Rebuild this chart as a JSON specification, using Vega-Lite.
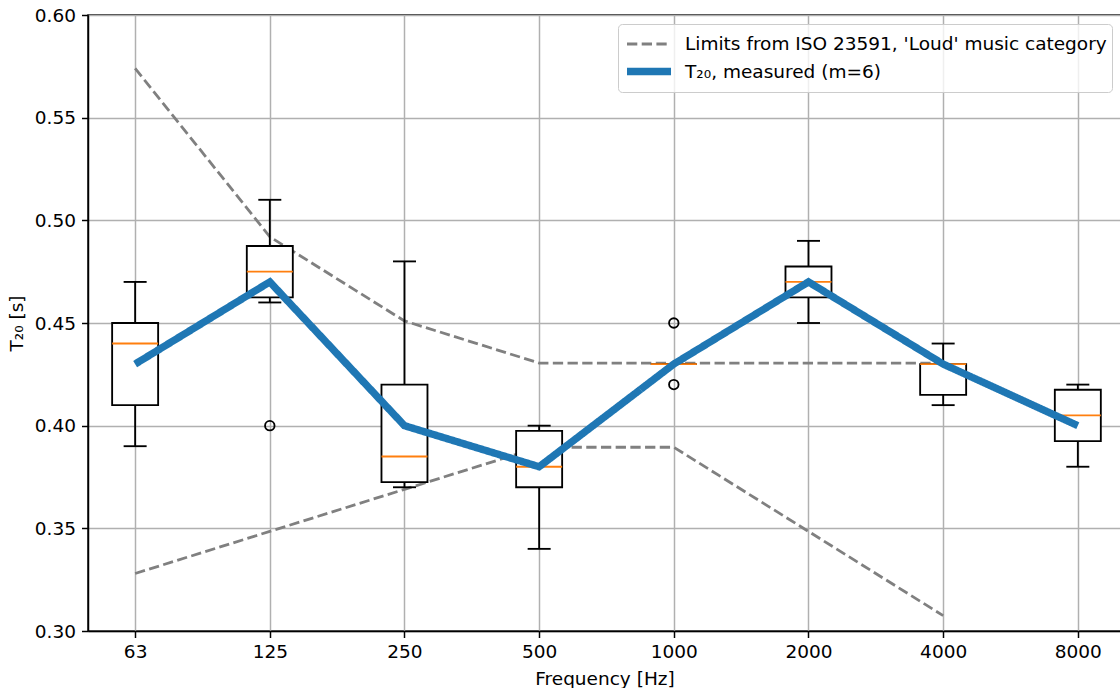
{
  "$schema": "https://vega.github.io/schema/vega-lite/v6.json",
  "width": 1033,
  "height": 616,
  "autosize": "none",
  "padding": {"left": 88, "top": 15, "right": 0, "bottom": 57},
  "background": "white",
  "config": {
    "font": "DejaVu Sans",
    "view": {"stroke": "black", "strokeWidth": 1.48},
    "axis": {
      "labelFont": "DejaVu Sans", "titleFont": "DejaVu Sans",
      "labelFontSize": 18.5, "titleFontSize": 18.5,
      "labelColor": "black", "titleColor": "black",
      "titleFontWeight": "normal",
      "tickColor": "black", "tickSize": 6.5, "tickWidth": 1.48,
      "domainColor": "black", "domainWidth": 1.48,
      "gridColor": "#b0b0b0", "gridWidth": 1.48
    },
    "axisX": {"labelPadding": 4.5},
    "axisY": {"labelPadding": 6},
    "legend": {
      "labelFont": "DejaVu Sans", "labelFontSize": 18.5, "labelColor": "black", "labelLimit": 0
    }
  },
  "datasets": {
    "boxes": [
      {"pos": 1, "freq": "63", "lo": 0.39, "q1": 0.41, "med": 0.44, "q3": 0.45, "hi": 0.47},
      {"pos": 2, "freq": "125", "lo": 0.46, "q1": 0.4625, "med": 0.475, "q3": 0.4875, "hi": 0.51},
      {"pos": 3, "freq": "250", "lo": 0.37, "q1": 0.3725, "med": 0.385, "q3": 0.42, "hi": 0.48},
      {"pos": 4, "freq": "500", "lo": 0.34, "q1": 0.37, "med": 0.38, "q3": 0.3975, "hi": 0.40},
      {"pos": 5, "freq": "1000", "lo": 0.43, "q1": 0.43, "med": 0.43, "q3": 0.43, "hi": 0.43},
      {"pos": 6, "freq": "2000", "lo": 0.45, "q1": 0.4625, "med": 0.47, "q3": 0.4775, "hi": 0.49},
      {"pos": 7, "freq": "4000", "lo": 0.41, "q1": 0.415, "med": 0.43, "q3": 0.43, "hi": 0.44},
      {"pos": 8, "freq": "8000", "lo": 0.38, "q1": 0.3925, "med": 0.405, "q3": 0.4175, "hi": 0.42}
    ],
    "outliers": [
      {"pos": 2, "t": 0.40},
      {"pos": 5, "t": 0.45},
      {"pos": 5, "t": 0.42}
    ],
    "measured": [
      {"pos": 1, "t": 0.43, "series": "T₂₀, measured (m=6)"},
      {"pos": 2, "t": 0.47, "series": "T₂₀, measured (m=6)"},
      {"pos": 3, "t": 0.40, "series": "T₂₀, measured (m=6)"},
      {"pos": 4, "t": 0.38, "series": "T₂₀, measured (m=6)"},
      {"pos": 5, "t": 0.43, "series": "T₂₀, measured (m=6)"},
      {"pos": 6, "t": 0.47, "series": "T₂₀, measured (m=6)"},
      {"pos": 7, "t": 0.43, "series": "T₂₀, measured (m=6)"},
      {"pos": 8, "t": 0.40, "series": "T₂₀, measured (m=6)"}
    ],
    "limits": [
      {"pos": 1, "t": 0.574, "bound": "upper", "series": "Limits from ISO 23591, 'Loud' music category"},
      {"pos": 2, "t": 0.492, "bound": "upper", "series": "Limits from ISO 23591, 'Loud' music category"},
      {"pos": 3, "t": 0.451, "bound": "upper", "series": "Limits from ISO 23591, 'Loud' music category"},
      {"pos": 4, "t": 0.4305, "bound": "upper", "series": "Limits from ISO 23591, 'Loud' music category"},
      {"pos": 5, "t": 0.4305, "bound": "upper", "series": "Limits from ISO 23591, 'Loud' music category"},
      {"pos": 6, "t": 0.4305, "bound": "upper", "series": "Limits from ISO 23591, 'Loud' music category"},
      {"pos": 7, "t": 0.4305, "bound": "upper", "series": "Limits from ISO 23591, 'Loud' music category"},
      {"pos": 1, "t": 0.328, "bound": "lower", "series": "Limits from ISO 23591, 'Loud' music category"},
      {"pos": 2, "t": 0.3485, "bound": "lower", "series": "Limits from ISO 23591, 'Loud' music category"},
      {"pos": 3, "t": 0.369, "bound": "lower", "series": "Limits from ISO 23591, 'Loud' music category"},
      {"pos": 4, "t": 0.3895, "bound": "lower", "series": "Limits from ISO 23591, 'Loud' music category"},
      {"pos": 5, "t": 0.3895, "bound": "lower", "series": "Limits from ISO 23591, 'Loud' music category"},
      {"pos": 6, "t": 0.3485, "bound": "lower", "series": "Limits from ISO 23591, 'Loud' music category"},
      {"pos": 7, "t": 0.3075, "bound": "lower", "series": "Limits from ISO 23591, 'Loud' music category"}
    ]
  },
  "layer": [
    {
      "data": {"name": "limits"},
      "mark": {"type": "line", "clip": true},
      "encoding": {
        "x": {"field": "pos", "type": "quantitative",
              "scale": {"domain": [0.65, 8.3206], "nice": false, "zero": false, "padding": 0},
              "axis": {"values": [1, 2, 3, 4, 5, 6, 7, 8], "title": "Frequency [Hz]", "titlePadding": 9,
                       "labelExpr": "['63','125','250','500','1000','2000','4000','8000'][datum.value - 1]"}},
        "y": {"field": "t", "type": "quantitative",
              "scale": {"domain": [0.3, 0.6], "nice": false, "zero": false, "padding": 0},
              "axis": {"values": [0.3, 0.35, 0.4, 0.45, 0.5, 0.55, 0.6], "format": ".2f", "title": "T₂₀ [s]", "titlePadding": 8}},
        "detail": {"field": "bound"},
        "color": {"field": "series", "type": "nominal",
                  "scale": {"domain": ["Limits from ISO 23591, 'Loud' music category", "T₂₀, measured (m=6)"], "range": ["#808080", "#1f77b4"]},
                  "legend": {"title": null, "orient": "top-right", "offset": 9, "symbolType": "M-1,0H2.26",
                             "symbolSize": 729, "labelOffset": 27, "padding": 5, "rowPadding": 0,
                             "fillColor": "rgba(255,255,255,0.8)", "strokeColor": "#cccccc", "cornerRadius": 4}},
        "strokeDash": {"field": "series", "type": "nominal",
                       "scale": {"domain": ["Limits from ISO 23591, 'Loud' music category", "T₂₀, measured (m=6)"], "range": [[10.3, 4.4], [1, 0]]},
                       "legend": {"title": null}},
        "strokeWidth": {"field": "series", "type": "nominal",
                        "scale": {"domain": ["Limits from ISO 23591, 'Loud' music category", "T₂₀, measured (m=6)"], "range": [2.8, 7.4]},
                        "legend": {"title": null}}
      }
    },
    {
      "data": {"name": "boxes"},
      "mark": {"type": "rule", "color": "black", "strokeWidth": 1.85},
      "encoding": {
        "x": {"field": "pos", "type": "quantitative"},
        "y": {"field": "lo", "type": "quantitative"},
        "y2": {"field": "hi"}
      }
    },
    {
      "data": {"name": "boxes"},
      "mark": {"type": "bar", "size": 46, "fill": "white", "stroke": "black", "strokeWidth": 1.85},
      "encoding": {
        "x": {"field": "pos", "type": "quantitative"},
        "y": {"field": "q1", "type": "quantitative"},
        "y2": {"field": "q3"}
      }
    },
    {
      "data": {"name": "boxes"},
      "mark": {"type": "tick", "orient": "horizontal", "size": 23, "thickness": 1.85, "color": "black", "opacity": 1},
      "encoding": {
        "x": {"field": "pos", "type": "quantitative"},
        "y": {"field": "lo", "type": "quantitative"}
      }
    },
    {
      "data": {"name": "boxes"},
      "mark": {"type": "tick", "orient": "horizontal", "size": 23, "thickness": 1.85, "color": "black", "opacity": 1},
      "encoding": {
        "x": {"field": "pos", "type": "quantitative"},
        "y": {"field": "hi", "type": "quantitative"}
      }
    },
    {
      "data": {"name": "boxes"},
      "mark": {"type": "tick", "orient": "horizontal", "size": 46, "thickness": 1.85, "color": "#ff7f0e", "opacity": 1},
      "encoding": {
        "x": {"field": "pos", "type": "quantitative"},
        "y": {"field": "med", "type": "quantitative"}
      }
    },
    {
      "data": {"name": "outliers"},
      "mark": {"type": "point", "shape": "circle", "filled": false, "size": 90, "stroke": "black", "strokeWidth": 1.85, "opacity": 1},
      "encoding": {
        "x": {"field": "pos", "type": "quantitative"},
        "y": {"field": "t", "type": "quantitative"}
      }
    },
    {
      "data": {"name": "measured"},
      "mark": {"type": "line", "strokeJoin": "miter", "strokeCap": "butt"},
      "encoding": {
        "x": {"field": "pos", "type": "quantitative"},
        "y": {"field": "t", "type": "quantitative"},
        "color": {"field": "series", "type": "nominal"},
        "strokeDash": {"field": "series", "type": "nominal"},
        "strokeWidth": {"field": "series", "type": "nominal"}
      }
    }
  ]
}
